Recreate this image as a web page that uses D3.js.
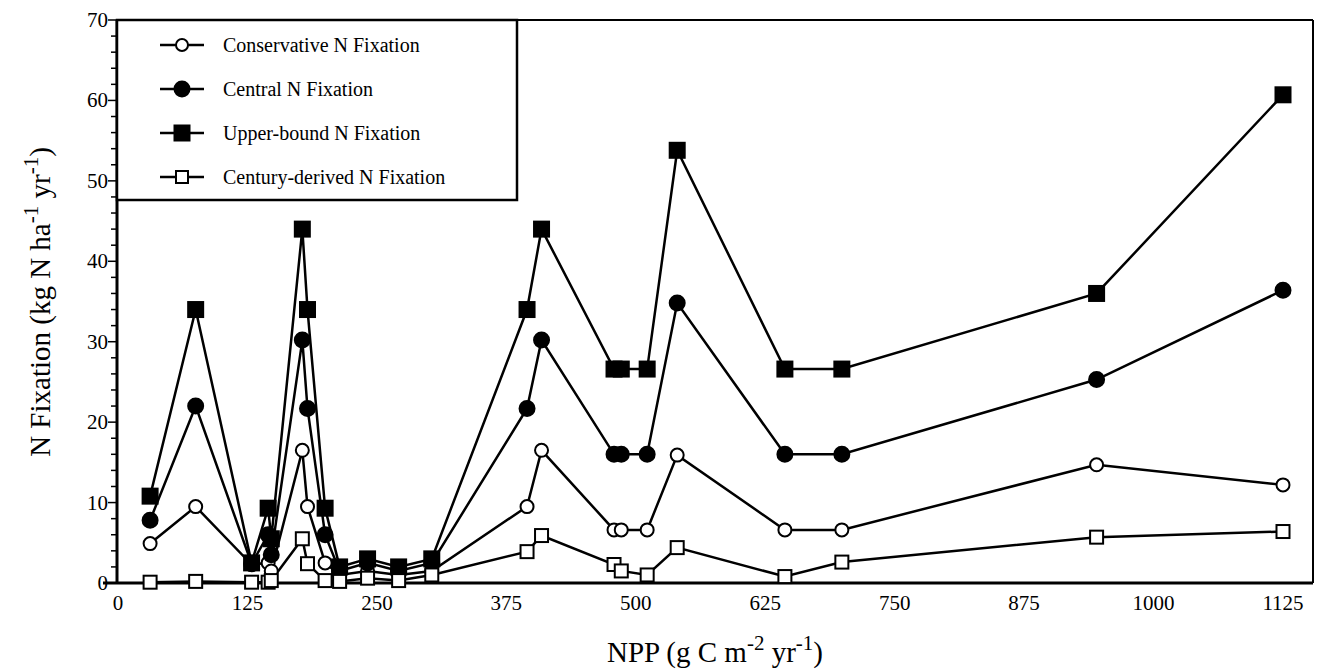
<!DOCTYPE html>
<html><head><meta charset="utf-8">
<script src="https://cdn.jsdelivr.net/npm/d3@7"></script>
<style>body{margin:0;background:#fff}text{font-family:"Liberation Serif","Times New Roman",serif}</style>
</head><body><svg id="c" width="1322" height="671"></svg>
<script>
const npp =          [31, 75, 129, 145, 148, 178, 183, 200, 214, 241, 271, 303, 395, 409, 479, 486, 511, 540, 644, 699, 945, 1125];
const conservative = [4.9, 9.5, 2.3, 2.5, 1.5, 16.5, 9.5, 2.5, 1.0, 1.5, 1.0, 1.5, 9.5, 16.5, 6.6, 6.6, 6.6, 15.9, 6.6, 6.6, 14.7, 12.2];
const central =      [7.8, 22.0, 2.4, 6.0, 3.5, 30.2, 21.7, 6.0, 1.5, 2.5, 1.5, 2.5, 21.7, 30.2, 16.0, 16.0, 16.0, 34.8, 16.0, 16.0, 25.3, 36.4];
const upper =        [10.8, 34.0, 2.5, 9.3, 5.5, 44.0, 34.0, 9.3, 2.0, 3.0, 2.0, 3.0, 34.0, 44.0, 26.6, 26.6, 26.6, 53.8, 26.6, 26.6, 36.0, 60.7];
const century =      [0.1, 0.2, 0.1, 0.1, 0.3, 5.5, 2.4, 0.3, 0.2, 0.6, 0.3, 1.0, 3.9, 5.9, 2.3, 1.5, 1.0, 4.4, 0.8, 2.6, 5.7, 6.4];
const xTicks = [0, 125, 250, 375, 500, 625, 750, 875, 1000, 1125];
const yTicks = [0, 10, 20, 30, 40, 50, 60, 70];
const seriesNames = ["Conservative N Fixation", "Central N Fixation", "Upper-bound N Fixation", "Century-derived N Fixation"];

const svg = d3.select("#c");
const x = d3.scaleLinear().domain([0, 1125]).range([118, 1283]);
const y = d3.scaleLinear().domain([0, 70]).range([583, 20]);
const L = 117, R = 1313, T = 20, B = 583;
svg.append("line").attr("x1",103).attr("x2",R).attr("y1",B).attr("y2",B).attr("stroke","#000").attr("stroke-width",3);
svg.append("line").attr("x1",L).attr("x2",L).attr("y1",T).attr("y2",B).attr("stroke","#000").attr("stroke-width",3);
svg.append("line").attr("x1",L).attr("x2",R).attr("y1",T).attr("y2",T).attr("stroke","#000").attr("stroke-width",2);
svg.append("line").attr("x1",R).attr("x2",R).attr("y1",T).attr("y2",B).attr("stroke","#000").attr("stroke-width",2);
const minor = d3.range(0, 70.01, 2);
svg.selectAll(".mt").data(minor).enter().append("line").attr("x1",d=>d%10===0?L-9:L-6).attr("x2",L)
  .attr("y1",d=>y(d)).attr("y2",d=>y(d)).attr("stroke","#000").attr("stroke-width",1.5);
svg.selectAll(".yt").data(yTicks).enter().append("text").attr("x",L-9).attr("y",d=>y(d)+7).attr("text-anchor","end")
  .attr("font-size",21).text(d=>d);
svg.selectAll(".xt").data(xTicks).enter().append("text").attr("x",d=>x(d)).attr("y",610).attr("text-anchor","middle")
  .attr("font-size",21).text(d=>d);
const xt = svg.append("text").attr("x",715).attr("y",662).attr("text-anchor","middle").attr("font-size",29);
xt.append("tspan").text("NPP (g C m");
xt.append("tspan").attr("dy",-12).attr("font-size",21).text("-2");
xt.append("tspan").attr("dy",12).text(" yr");
xt.append("tspan").attr("dy",-12).attr("font-size",21).text("-1");
xt.append("tspan").attr("dy",12).text(")");
const yt = svg.append("text").attr("transform","translate(50,302) rotate(-90)").attr("text-anchor","middle").attr("font-size",29);
yt.append("tspan").text("N Fixation (kg N ha");
yt.append("tspan").attr("dy",-12).attr("font-size",21).text("-1");
yt.append("tspan").attr("dy",12).text(" yr");
yt.append("tspan").attr("dy",-12).attr("font-size",21).text("-1");
yt.append("tspan").attr("dy",12).text(")");

const series = [
  {vals: conservative, shape:"circle", fill:"#fff"},
  {vals: central, shape:"circle", fill:"#000"},
  {vals: upper, shape:"square", fill:"#000"},
  {vals: century, shape:"square", fill:"#fff"}
];
function marker(g, s, cx, cy, size){
  if (s.shape==="circle") g.append("circle").attr("cx",cx).attr("cy",cy).attr("r",size/2).attr("fill",s.fill).attr("stroke","#000").attr("stroke-width",2);
  else g.append("rect").attr("x",cx-size/2).attr("y",cy-size/2).attr("width",size).attr("height",size).attr("fill",s.fill).attr("stroke","#000").attr("stroke-width",2);
}
const line = d3.line().x(d=>x(d[0])).y(d=>y(d[1]));
series.forEach(s=>{
  const pts = npp.map((v,i)=>[v, s.vals[i]]);
  svg.append("path").attr("d", line(pts)).attr("fill","none").attr("stroke","#000").attr("stroke-width",2.5);
});
series.forEach(s=>{
  const g = svg.append("g");
  npp.forEach((v,i)=>marker(g, s, x(v), y(s.vals[i]), s.fill==="#000"?15:13));
});
svg.append("rect").attr("x",L).attr("y",T).attr("width",400).attr("height",180).attr("fill","#fff").attr("stroke","#000").attr("stroke-width",2.5);
seriesNames.forEach((n,i)=>{
  const ly = 45 + i*44;
  svg.append("line").attr("x1",160).attr("x2",204).attr("y1",ly).attr("y2",ly).attr("stroke","#000").attr("stroke-width",2.5);
  marker(svg, series[i], 182, ly, series[i].fill==="#000"?15:12);
  svg.append("text").attr("x",223).attr("y",ly+7).attr("font-size",20).text(n);
});
</script></body></html>
